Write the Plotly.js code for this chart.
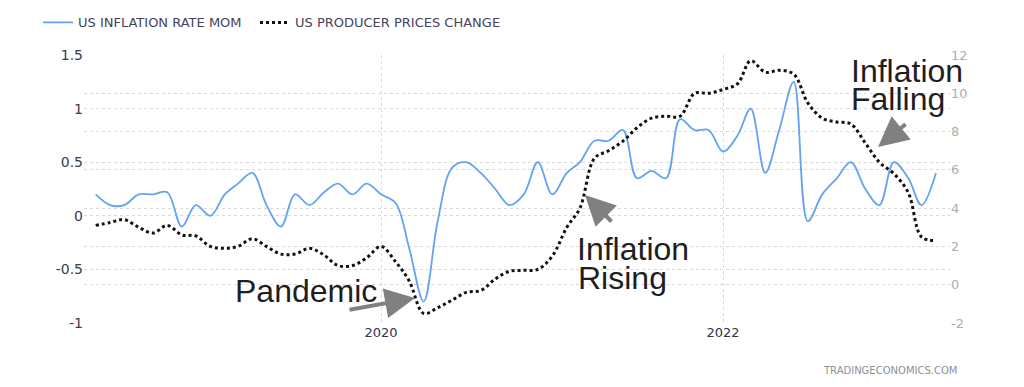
<!DOCTYPE html>
<html>
<head>
<meta charset="utf-8">
<script src="https://cdn.plot.ly/plotly-3.0.1.min.js"></script>
<style>html,body{margin:0;padding:0;background:#fff;}#chart{width:1024px;height:387px;}</style>
</head>
<body>
<div id="chart"></div>
<script>
const months = [
 '2018-05-01','2018-06-01','2018-07-01','2018-08-01','2018-09-01','2018-10-01','2018-11-01','2018-12-01',
 '2019-01-01','2019-02-01','2019-03-01','2019-04-01','2019-05-01','2019-06-01','2019-07-01','2019-08-01',
 '2019-09-01','2019-10-01','2019-11-01','2019-12-01',
 '2020-01-01','2020-02-01','2020-03-01','2020-04-01','2020-05-01','2020-06-01','2020-07-01','2020-08-01',
 '2020-09-01','2020-10-01','2020-11-01','2020-12-01',
 '2021-01-01','2021-02-01','2021-03-01','2021-04-01','2021-05-01','2021-06-01','2021-07-01','2021-08-01',
 '2021-09-01','2021-10-01','2021-11-01','2021-12-01',
 '2022-01-01','2022-02-01','2022-03-01','2022-04-01','2022-05-01','2022-06-01','2022-07-01','2022-08-01',
 '2022-09-01','2022-10-01','2022-11-01','2022-12-01',
 '2023-01-01','2023-02-01','2023-03-01','2023-04-01'
];
const inflationMoM = [
 0.2, 0.1, 0.1, 0.2, 0.2, 0.22, -0.1, 0.1,
 0.0, 0.2, 0.3, 0.4, 0.1, -0.1, 0.2, 0.1,
 0.22, 0.3, 0.2, 0.3,
 0.2, 0.12, -0.3, -0.8, -0.05, 0.45, 0.5, 0.4,
 0.25, 0.1, 0.2, 0.5,
 0.2, 0.4, 0.5, 0.7, 0.7, 0.8, 0.35, 0.42,
 0.35, 0.9, 0.8, 0.8,
 0.6, 0.75, 1.0, 0.4, 0.8, 1.25, -0.05, 0.2,
 0.35, 0.5, 0.25, 0.1,
 0.5, 0.35, 0.1, 0.4
];
const producerPrices = [
 3.1, 3.25, 3.4, 3.0, 2.7, 3.1, 2.6, 2.55,
 2.0, 1.9, 2.0, 2.4, 2.0, 1.6, 1.6, 1.9,
 1.55, 1.0, 1.0, 1.4,
 2.0, 1.2, 0.2, -1.5, -1.2, -0.8, -0.4, -0.3,
 0.3, 0.7, 0.75, 0.8,
 1.5, 3.0, 4.0, 6.6, 7.0, 7.5, 8.2, 8.7,
 8.8, 8.8, 10.0, 10.0,
 10.2, 10.5, 11.7, 11.1, 11.2, 11.0, 9.5, 8.7,
 8.5, 8.4, 7.4, 6.4,
 5.8, 4.8, 2.5, 2.3
];
const seriesNames = ['US INFLATION RATE MOM', 'US PRODUCER PRICES CHANGE'];
const xTickVals = ['2020-01-01', '2022-01-01'];
const xTickText = ['2020', '2022'];
const leftTickVals = [1.5, 1, 0.5, 0, -0.5, -1];
const leftTickText = ['1.5', '1', '0.5', '0', '-0.5', '-1'];
const rightTickVals = [12, 10, 8, 6, 4, 2, 0, -2];
const rightTickText = ['12', '10', '8', '6', '4', '2', '0', '-2'];

const traces = [
  {
    x: months, y: inflationMoM, name: seriesNames[0], type: 'scatter', mode: 'lines',
    line: {color: '#64a2f2', width: 1.8, shape: 'spline', smoothing: 1},
    yaxis: 'y', hoverinfo: 'skip', legend: 'legend'
  },
  {
    x: months, y: producerPrices, name: seriesNames[1], type: 'scatter', mode: 'lines',
    line: {color: '#111111', width: 3, dash: 'dot', shape: 'spline', smoothing: 1},
    yaxis: 'y2', hoverinfo: 'skip', legend: 'legend2'
  }
];

const annFont = {family: 'Liberation Sans, Arial, sans-serif', size: 32, color: '#1e1e1e'};
function txt(t, x, y) {
  return {text: t, xref: 'paper', yref: 'paper', x: x, y: y, xanchor: 'left', yanchor: 'middle',
          showarrow: false, font: annFont};
}
function arr(x, y, ax, ay) {
  return {text: '', xref: 'paper', yref: 'paper', x: x, y: y, ax: ax, ay: ay,
          showarrow: true, arrowhead: 2, arrowsize: 1.5, arrowwidth: 4, arrowcolor: '#808080'};
}
const legFont = {family: 'DejaVu Sans, sans-serif', size: 13, color: '#44445a'};

const layout = {
  width: 1024, height: 387,
  margin: {l: 84, r: 74, t: 55, b: 64, pad: 0},
  paper_bgcolor: '#ffffff', plot_bgcolor: '#ffffff',
  font: {family: 'DejaVu Sans, sans-serif', color: '#333'},
  showlegend: true,
  legend: {orientation: 'h', xref: 'container', yref: 'container', x: 0.0371, xanchor: 'left',
           y: 0.942, yanchor: 'middle', font: legFont, bgcolor: 'rgba(0,0,0,0)'},
  legend2: {orientation: 'h', xref: 'container', yref: 'container', x: 0.249, xanchor: 'left',
           y: 0.942, yanchor: 'middle', font: legFont, bgcolor: 'rgba(0,0,0,0)'},
  xaxis: {
    type: 'date', range: ['2018-04-06', '2023-05-01'],
    tickmode: 'array', tickvals: xTickVals, ticktext: xTickText,
    showgrid: true, gridcolor: '#d9d9d9', griddash: 'dot', gridwidth: 1,
    zeroline: false, showline: false, ticks: '',
    tickfont: {family: 'DejaVu Sans, sans-serif', size: 13, color: '#333344'}
  },
  yaxis: {
    range: [-1, 1.5], tickmode: 'array', tickvals: leftTickVals, ticktext: leftTickText,
    showgrid: true, gridcolor: '#d9d9d9', griddash: 'dot', gridwidth: 1,
    zeroline: false, showline: false, ticks: '',
    tickfont: {family: 'DejaVu Sans, sans-serif', size: 14, color: '#3a3a4e'}
  },
  yaxis2: {
    range: [-2, 12], overlaying: 'y', side: 'right', tickmode: 'array',
    tickvals: rightTickVals, ticktext: rightTickText,
    showgrid: true, gridcolor: '#d9d9d9', griddash: 'dot', gridwidth: 1,
    zeroline: false, showline: false, ticks: '',
    tickfont: {family: 'DejaVu Sans, sans-serif', size: 13, color: '#b4aba4'}
  },
  annotations: [
    txt('Pandemic', 0.1725, 0.1194),
    txt('Inflation', 0.5675, 0.275),
    txt('Rising', 0.5685, 0.1694),
    txt('Inflation', 0.8828, 0.9403),
    txt('Falling', 0.8828, 0.8347),
    arr(0.3822, 0.0933, -67, 12),
    arr(0.5785, 0.4776, 28, 28),
    arr(0.9169, 0.6567, 29, -24),
    {text: 'TRADINGECONOMICS.COM', xref: 'paper', yref: 'paper', x: 0.9307, y: -0.1754,
     xanchor: 'center', yanchor: 'middle', showarrow: false,
     font: {family: 'DejaVu Sans, sans-serif', size: 10, color: '#8e8e9c'}}
  ]
};

Plotly.newPlot('chart', traces, layout, {staticPlot: true, displayModeBar: false});
</script>
</body>
</html>
